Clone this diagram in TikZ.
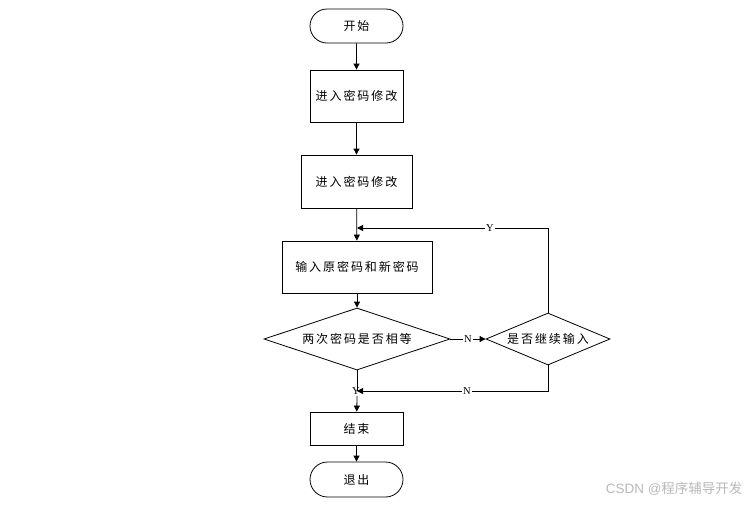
\documentclass[tikz,border=0pt]{standalone}
\usepackage{fontspec}
\setmainfont{Liberation Serif}
\newfontfamily\cjk[LetterSpace=16]{Noto Sans CJK SC}
\newfontfamily\cjkwm{Noto Sans CJK SC}
\usetikzlibrary{shapes.geometric,shapes.misc,arrows.meta}
\begin{document}
\begin{tikzpicture}[x=1pt,y=-1pt,
  txt/.style={font=\cjk\fontsize{12}{14}\selectfont},
  box/.style={draw,line width=0.8pt,minimum width=#1,inner sep=0pt,txt},
  term/.style={draw,line width=0.8pt,rounded rectangle,minimum width=93pt,minimum height=34pt,inner sep=0pt,txt},
  dia/.style={draw,line width=0.8pt,diamond,aspect=3,inner sep=0pt,txt},
  conn/.style={line width=0.8pt,-{Triangle[length=6pt,width=6pt]}},
  plain/.style={line width=0.8pt},
  lab/.style={fill=white,inner sep=1pt,font=\fontsize{10.5}{11}\selectfont}]
\useasboundingbox (0,0) rectangle (752,504);
\node[term] (start) at (356.5,26) {开始};
\node[box=93pt,minimum height=52pt] (b1) at (356.5,96) {进入密码修改};
\node[box=111pt,minimum height=53pt] (b2) at (356.5,181.5) {进入密码修改};
\node[box=150pt,minimum height=52pt] (b3) at (357,267) {输入原密码和新密码};
\node[dia,minimum width=186pt,minimum height=62pt] (d1) at (357,339) {两次密码是否相等};
\node[dia,aspect=2.4,minimum width=124pt,minimum height=52pt] (d2) at (548,339) {是否继续输入};
\node[box=93pt,minimum height=33pt] (b4) at (356.5,428.5) {结束};
\node[term,minimum height=35pt] (quit) at (356.5,479.5) {退出};
\coordinate (m1) at (357,228);
\coordinate (m2) at (357,391);
\draw[conn] (start) -- (b1);
\draw[conn] (b1) -- (b2);
\draw[conn] (b2) -- (b3);
\draw[conn] (d2.north) |- (m1);
\node[lab] (ly) at (490,228) {Y};
\draw[conn] (b3) -- (d1);
\draw[conn] (d1.east) -- (d2.west) node[lab,midway] (ln1) {N};
\draw[plain] (d1.south) -- (m2);
\draw[conn] (d2.south) |- (m2);
\node[lab] (ln2) at (467,391) {N};
\node[lab,fill=none] (lyy) at (356,391) {Y};
\coordinate (m3) at (357,396);
\draw[conn] (m3) -- (b4);
\draw[conn] (b4) -- (quit);
\node[anchor=east,text=black!28,font=\fontspec{Liberation Sans}\fontsize{13.5}{15}\selectfont] (wm) at (746,489) {CSDN @{\cjkwm 程序辅导开发}};
\end{tikzpicture}
\end{document}
